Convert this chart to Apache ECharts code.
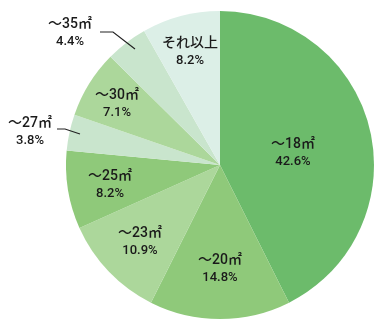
<!DOCTYPE html>
<html><head><meta charset="utf-8">
<script src="https://cdn.jsdelivr.net/npm/echarts@6/dist/echarts.min.js"></script>
<style>html,body{margin:0;padding:0;background:#fff}#c{width:391px;height:330px}</style>
</head><body><div id="c"></div>
<script>
const categories = ['～18㎡','～20㎡','～23㎡','～25㎡','～27㎡','～30㎡','～35㎡','それ以上'];
const percents = [42.6, 14.8, 10.9, 8.2, 3.8, 7.1, 4.4, 8.2];

const colors = ['#6cbb6b','#8fc97a','#acd79b','#8fc97a','#c9e5cd','#acd79b','#c9e5cd','#dcefe7'];
const labelPos = [[293,153],[220,269],[140,242],[110,185],[30,132],[117,104],[70,33],[190,52]];
const outside = [false,false,false,false,true,false,true,false];
const linePts = {
  4: [[80,134],[65,129],[57,129]],
  6: [[135,49],[113,32],[100,32]]
};

const common = {
  type:'pie',
  center:[220,165],
  radius:[0,154],
  startAngle:90,
  clockwise:true,
  silent:true,
  avoidLabelOverlap:false
};

const chart = echarts.init(document.getElementById('c'));
chart.setOption({
  animation:false,
  series:[Object.assign({}, common, {
    z:2,
    data: categories.map((n,i)=>({name:n, value:percents[i], itemStyle:{color:colors[i]}})),
    itemStyle:{borderWidth:0},
    label:{show:false},
    labelLine:{show:false}
  }), Object.assign({}, common, {
    z:5,
    data: categories.map((n,i)=>({
      name:n, value:percents[i],
      label:{position: outside[i] ? 'outside' : 'inside'},
      labelLine:{show: outside[i], smooth:false, lineStyle:{color:'#222', width:1.2}}
    })),
    itemStyle:{color:'rgba(0,0,0,0)', borderWidth:0},
    label:{
      formatter:p=>'{a|'+p.name+'}\n{b|'+p.value.toFixed(1)+'%}',
      color:'#222',
      align:'center',
      overflow:'none',
      rich:{
        a:{fontFamily:'Roboto,"Noto Sans CJK JP", sans-serif', fontSize:14, fontWeight:500, color:'#1a1a1a', lineHeight:18, align:'center'},
        b:{fontFamily:'Roboto, sans-serif', fontSize:13, fontWeight:500, color:'#1a1a1a', lineHeight:17, align:'center'}
      }
    },
    labelLayout: function(p){
      const i = p.dataIndex;
      const r = {x:labelPos[i][0], y:labelPos[i][1], align:'center', verticalAlign:'middle'};
      if (linePts[i]) r.labelLinePoints = linePts[i];
      return r;
    }
  })]
});
</script></body></html>
